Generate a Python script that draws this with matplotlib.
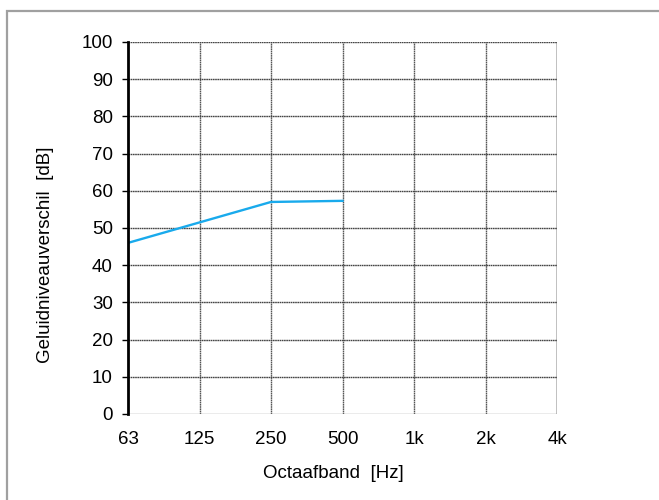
import matplotlib
matplotlib.use("Agg")
import matplotlib.pyplot as plt
from matplotlib.patches import Rectangle

plt.rcParams['font.family'] = ['Liberation Sans', 'DejaVu Sans']

bands = ['63', '125', '250', '500', '1k', '2k', '4k']
levels = [46.0, 51.5, 57.0, 57.3]
yticks = list(range(0, 101, 10))

fig = plt.figure(figsize=(6.59, 5.00), dpi=100)
fig.patches.append(Rectangle((7/659, -0.1), 1.2, 1 - 11/500 + 0.1, transform=fig.transFigure,
                             fill=False, edgecolor='#a0a0a0', linewidth=1.6))
ax = fig.add_axes([128/659, 1 - 414/500, (557-128)/659, (414-42)/500])

x = list(range(len(bands)))
ax.set_xlim(0, len(bands) - 1)
ax.set_ylim(0, 100)

for xi in x[1:-1]:
    ax.axvline(xi, color='#555555', lw=1.0, ls=(0, (1.2, 0.4)), zorder=1)
ax.axvline(x[-1], color='#bbbbbb', lw=1.3, zorder=1)
for yv in yticks[1:]:
    ax.axhline(yv, color='#444444', lw=1.0, ls=(0, (1.2, 0.4)), zorder=1)
ax.axhline(0, color='#999999', lw=1.0, zorder=1)

ax.plot(x[:len(levels)], levels, color='#19aaec', lw=1.7, zorder=3)

for s in ['top', 'right', 'bottom']:
    ax.spines[s].set_visible(False)
ax.spines['left'].set_linewidth(2.0)
ax.spines['left'].set_color('black')
ax.spines['left'].set_zorder(4)

ax.set_yticks(yticks)
ax.set_xticks(x)
ax.set_xticklabels(bands)
ax.tick_params(axis='y', length=4, width=1, color='black', labelsize=13.5, pad=7)
ax.tick_params(axis='x', length=0, labelsize=13.5, pad=12)
ax.set_xlabel('Octaafband  [Hz]', fontsize=13.5)
ax.set_ylabel('Geluidniveauverschil  [dB]', fontsize=13.5)
ax.xaxis.set_label_coords(0.479, -0.137)
ax.yaxis.set_label_coords(-0.172, 0.427)

fig.savefig('out.png', dpi=100)
